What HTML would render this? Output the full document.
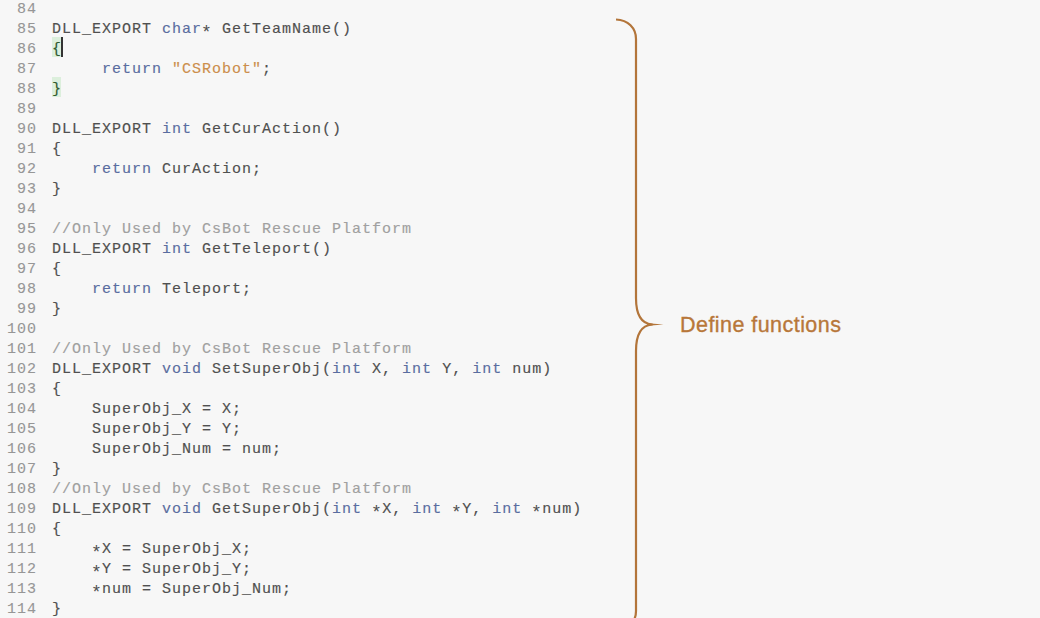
<!DOCTYPE html>
<html><head><meta charset="utf-8">
<style>
html,body{margin:0;padding:0;}
body{width:1040px;height:618px;overflow:hidden;background:#f7f7f7;position:relative;}
.code{position:absolute;left:0;top:0;font-family:"Liberation Mono",monospace;font-size:15px;letter-spacing:1px;-webkit-text-stroke:0.15px currentColor;}
.ln{position:absolute;left:0;width:37px;text-align:right;color:#969696;-webkit-text-stroke:0.1px currentColor;height:20px;line-height:20px;white-space:pre;}
.tx{position:absolute;left:52px;color:#505050;height:20px;line-height:20px;white-space:pre;}
.k{color:#5a6da0;}
.s{color:#cc8e4c;}
.c{color:#a0a0a0;}
.a{display:inline-block;transform:translateY(4px) scale(1.2);-webkit-text-stroke:0;}
.g{color:#2f5a2f;}
.hb{position:absolute;left:52px;width:9px;height:20px;background:#dcefdc;}
.cur{position:absolute;left:61px;top:37px;width:1.6px;height:20px;background:#333;}
.lbl{position:absolute;left:680px;top:313px;font-family:"Liberation Sans",sans-serif;font-size:21.5px;letter-spacing:0.45px;color:#b8773a;-webkit-text-stroke:0.35px currentColor;white-space:nowrap;}
svg{position:absolute;left:0;top:0;}
</style></head><body>
<div class="hb" style="top:37px"></div><div class="hb" style="top:77px"></div>
<div class="code">
<div class="ln" style="top:0px">84</div>
<div class="ln" style="top:20px">85</div><div class="tx" style="top:20px">DLL_EXPORT <span class="k">char</span><span class="a">*</span> GetTeamName()</div>
<div class="ln" style="top:40px">86</div><div class="tx" style="top:40px"><span class="g">{</span></div>
<div class="ln" style="top:60px">87</div><div class="tx" style="top:60px">     <span class="k">return</span> <span class="s">"CSRobot"</span>;</div>
<div class="ln" style="top:80px">88</div><div class="tx" style="top:80px"><span class="g">}</span></div>
<div class="ln" style="top:100px">89</div>
<div class="ln" style="top:120px">90</div><div class="tx" style="top:120px">DLL_EXPORT <span class="k">int</span> GetCurAction()</div>
<div class="ln" style="top:140px">91</div><div class="tx" style="top:140px">{</div>
<div class="ln" style="top:160px">92</div><div class="tx" style="top:160px">    <span class="k">return</span> CurAction;</div>
<div class="ln" style="top:180px">93</div><div class="tx" style="top:180px">}</div>
<div class="ln" style="top:200px">94</div>
<div class="ln" style="top:220px">95</div><div class="tx" style="top:220px"><span class="c">//Only Used by CsBot Rescue Platform</span></div>
<div class="ln" style="top:240px">96</div><div class="tx" style="top:240px">DLL_EXPORT <span class="k">int</span> GetTeleport()</div>
<div class="ln" style="top:260px">97</div><div class="tx" style="top:260px">{</div>
<div class="ln" style="top:280px">98</div><div class="tx" style="top:280px">    <span class="k">return</span> Teleport;</div>
<div class="ln" style="top:300px">99</div><div class="tx" style="top:300px">}</div>
<div class="ln" style="top:320px">100</div>
<div class="ln" style="top:340px">101</div><div class="tx" style="top:340px"><span class="c">//Only Used by CsBot Rescue Platform</span></div>
<div class="ln" style="top:360px">102</div><div class="tx" style="top:360px">DLL_EXPORT <span class="k">void</span> SetSuperObj(<span class="k">int</span> X, <span class="k">int</span> Y, <span class="k">int</span> num)</div>
<div class="ln" style="top:380px">103</div><div class="tx" style="top:380px">{</div>
<div class="ln" style="top:400px">104</div><div class="tx" style="top:400px">    SuperObj_X = X;</div>
<div class="ln" style="top:420px">105</div><div class="tx" style="top:420px">    SuperObj_Y = Y;</div>
<div class="ln" style="top:440px">106</div><div class="tx" style="top:440px">    SuperObj_Num = num;</div>
<div class="ln" style="top:460px">107</div><div class="tx" style="top:460px">}</div>
<div class="ln" style="top:480px">108</div><div class="tx" style="top:480px"><span class="c">//Only Used by CsBot Rescue Platform</span></div>
<div class="ln" style="top:500px">109</div><div class="tx" style="top:500px">DLL_EXPORT <span class="k">void</span> GetSuperObj(<span class="k">int</span> <span class="a">*</span>X, <span class="k">int</span> <span class="a">*</span>Y, <span class="k">int</span> <span class="a">*</span>num)</div>
<div class="ln" style="top:520px">110</div><div class="tx" style="top:520px">{</div>
<div class="ln" style="top:540px">111</div><div class="tx" style="top:540px">    <span class="a">*</span>X = SuperObj_X;</div>
<div class="ln" style="top:560px">112</div><div class="tx" style="top:560px">    <span class="a">*</span>Y = SuperObj_Y;</div>
<div class="ln" style="top:580px">113</div><div class="tx" style="top:580px">    <span class="a">*</span>num = SuperObj_Num;</div>
<div class="ln" style="top:600px">114</div><div class="tx" style="top:600px">}</div>
</div>
<div class="cur"></div>
<svg width="1040" height="618" viewBox="0 0 1040 618">
<path d="M616,19.5 C628,20 636,28 636,39 L636,298 C636,315 641,323.6 652,324.5 C641,325.4 636,334 636,351 L636,611 C636,622 628,630 616,630" fill="none" stroke="#b3753a" stroke-width="2.2" stroke-linejoin="round"/>
<path d="M648,323.2 L663.5,324.5 L648,325.8 Z" fill="#b3753a"/>
</svg>
<div class="lbl">Define functions</div>
</body></html>
